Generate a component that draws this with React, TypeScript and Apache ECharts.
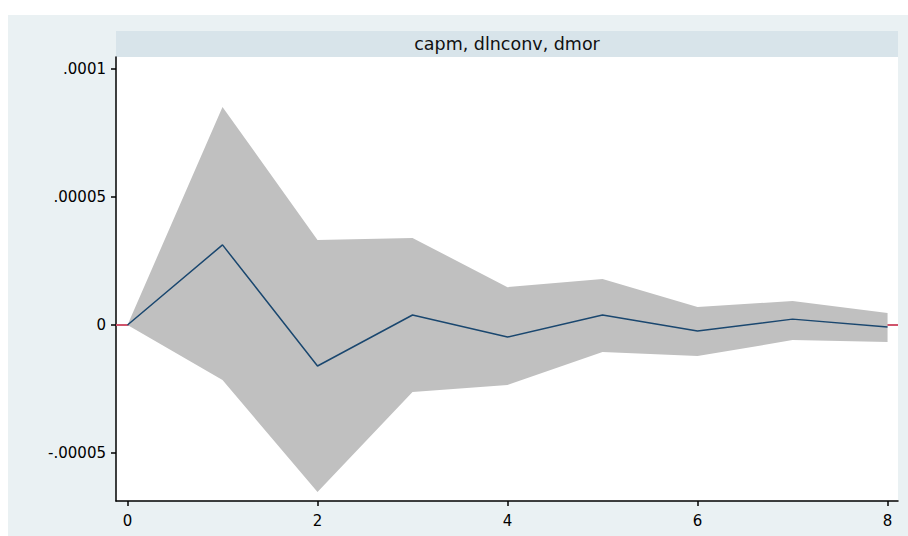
import React, { useEffect, useRef } from "react";
import * as echarts from "echarts";

const steps = [0, 1, 2, 3, 4, 5, 6, 7, 8];
const irf = [0, 3.13e-5, -1.6e-5, 3.9e-6, -4.7e-6, 3.9e-6, -2.3e-6, 2.3e-6, -0.8e-6];
const upper = [0, 8.52e-5, 3.32e-5, 3.4e-5, 1.48e-5, 1.8e-5, 7.0e-6, 9.4e-6, 4.7e-6];
const lower = [0, -2.15e-5, -6.52e-5, -2.62e-5, -2.34e-5, -1.05e-5, -1.21e-5, -5.9e-6, -6.6e-6];

const panelTitle = "capm, dlnconv, dmor";
const xTicks = [0, 2, 4, 6, 8];
const yTicks = [-0.00005, 0, 0.00005, 0.0001];
const yTickLabels = ["-.00005", "0", ".00005", ".0001"];

const FONT = "DejaVu Sans";

export default function App() {
  const ref = useRef<HTMLDivElement>(null);
  useEffect(() => {
    if (!ref.current) return;
    const chart = echarts.init(ref.current, null, { renderer: "svg" });
    const fmtY = (v: number) => {
      let best = -1;
      let bd = Infinity;
      yTicks.forEach((t, i) => {
        const d = Math.abs(t - v);
        if (d < bd) {
          bd = d;
          best = i;
        }
      });
      return bd < 1e-9 ? yTickLabels[best] : "";
    };
    const bandData = steps.map((s, i) => [s, lower[i], upper[i]]);
    chart.setOption({
      animation: false,
      backgroundColor: "#ffffff",
      graphic: [
        {
          type: "rect",
          z: -10,
          shape: { x: 8, y: 15, width: 900, height: 521 },
          style: { fill: "#eaf1f3" },
        },
        {
          type: "rect",
          z: -5,
          shape: { x: 116, y: 31, width: 782, height: 26 },
          style: { fill: "#d8e4ea" },
        },
        {
          type: "text",
          z: 10,
          x: 507,
          y: 44,
          style: {
            text: panelTitle,
            font: `17.5px "${FONT}"`,
            fill: "#111111",
            textAlign: "center",
            textVerticalAlign: "middle",
          },
        },
      ],
      grid: {
        left: 116,
        top: 57,
        width: 782,
        height: 444,
        show: true,
        backgroundColor: "#ffffff",
        borderWidth: 0,
        containLabel: false,
      },
      xAxis: {
        type: "value",
        min: -0.121,
        max: 8.11,
        axisLine: { show: true, onZero: false, lineStyle: { color: "#000000", width: 1.5 } },
        axisTick: {
          show: true,
          customValues: xTicks,
          length: 5,
          lineStyle: { color: "#000000", width: 1.5 },
        },
        axisLabel: {
          customValues: xTicks,
          margin: 12,
          color: "#000000",
          fontFamily: FONT,
          fontSize: 15,
          formatter: (v: number) => String(v),
        },
        splitLine: { show: false },
      },
      yAxis: {
        type: "value",
        min: -0.00006875,
        max: 0.0001047,
        axisLine: { show: true, onZero: false, lineStyle: { color: "#000000", width: 1.5 } },
        axisTick: {
          show: true,
          customValues: yTicks,
          length: 5,
          lineStyle: { color: "#000000", width: 1.5 },
        },
        axisLabel: {
          customValues: yTicks,
          margin: 10,
          color: "#000000",
          fontFamily: FONT,
          fontSize: 15,
          formatter: fmtY,
        },
        splitLine: { show: false },
      },
      series: [
        {
          name: "ref",
          type: "line",
          data: [],
          z: 1,
          silent: true,
          markLine: {
            z: 1,
            silent: true,
            symbol: ["none", "none"],
            label: { show: false },
            data: [
              ...yTicks
                .filter((t) => t !== 0)
                .map((t) => ({ yAxis: t, lineStyle: { color: "#e6eff1", width: 1.5, type: "solid" } })),
              { yAxis: 0, lineStyle: { color: "#c8203f", width: 1.6, type: "solid" } },
            ],
          },
        },
        {
          name: "band",
          type: "custom",
          z: 2,
          silent: true,
          data: bandData,
          encode: { x: 0, y: [1, 2] },
          renderItem: (params: any, api: any) => {
            if (params.dataIndex !== 0) return null;
            const top = bandData.map((d) => api.coord([d[0], d[2]]));
            const bot = bandData
              .slice()
              .reverse()
              .map((d) => api.coord([d[0], d[1]]));
            return {
              type: "polygon",
              shape: { points: top.concat(bot) },
              style: { fill: "#c0c0c0", stroke: "none" },
            };
          },
        },
        {
          name: "irf",
          type: "line",
          z: 3,
          showSymbol: false,
          symbol: "none",
          silent: true,
          lineStyle: { color: "#1a476f", width: 1.5 },
          data: steps.map((s, i) => [s, irf[i]]),
        },
      ],
    });
    return () => chart.dispose();
  }, []);
  return (
    <div
      ref={ref}
      style={{ position: "absolute", left: 0, top: 0, width: 908, height: 536 }}
    />
  );
}
